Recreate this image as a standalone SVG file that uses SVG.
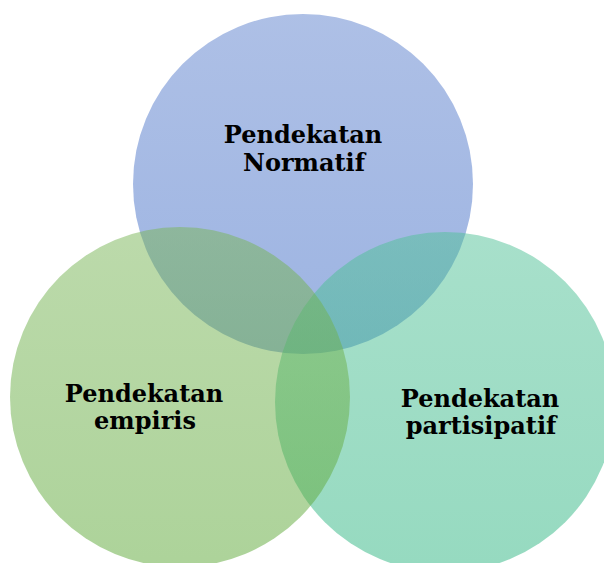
<svg xmlns="http://www.w3.org/2000/svg" width="604" height="563" viewBox="0 0 604 563">
  <defs>
    <linearGradient id="gBlue" x1="0" y1="0" x2="0" y2="1">
      <stop offset="0" stop-color="#5d81cd"/>
      <stop offset="1" stop-color="#3b69c5"/>
    </linearGradient>
    <linearGradient id="gGreen" x1="0" y1="0" x2="0" y2="1">
      <stop offset="0" stop-color="#79b557"/>
      <stop offset="1" stop-color="#5ba735"/>
    </linearGradient>
    <linearGradient id="gTeal" x1="0" y1="0" x2="0" y2="1">
      <stop offset="0" stop-color="#51c197"/>
      <stop offset="1" stop-color="#2db581"/>
    </linearGradient>
  </defs>
  <style>
    .circle { fill-opacity: 0.5; stroke: none; }
    .label { font-family: "DejaVu Serif", "Liberation Serif", serif; font-weight: bold; font-size: 24px; fill: #000; text-anchor: middle; }
  </style>
  <rect width="604" height="563" fill="#ffffff"/>
  <g id="connectors"/>
  <g id="normatif">
    <circle class="circle" cx="303" cy="184" r="170" fill="url(#gBlue)"/>
  </g>
  <g id="partisipatif">
    <circle class="circle" cx="445" cy="402" r="170" fill="url(#gTeal)"/>
  </g>
  <g id="empiris">
    <circle class="circle" cx="180" cy="397" r="170" fill="url(#gGreen)"/>
  </g>
  <g id="labels">
    <text class="label" x="303" y="143">Pendekatan</text>
    <text class="label" x="304" y="171">Normatif</text>
    <text class="label" x="144" y="402">Pendekatan</text>
    <text class="label" x="145" y="429">empiris</text>
    <text class="label" x="480" y="407">Pendekatan</text>
    <text class="label" x="481" y="434">partisipatif</text>
  </g>
</svg>
